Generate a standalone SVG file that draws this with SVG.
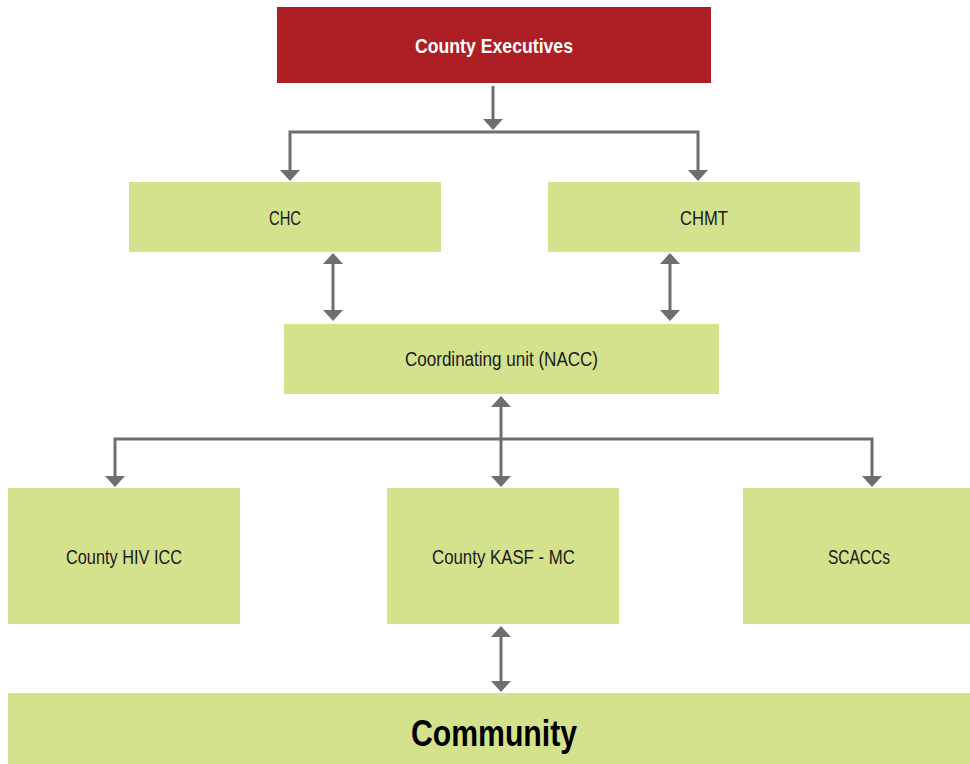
<svg xmlns="http://www.w3.org/2000/svg" width="970" height="764" viewBox="0 0 970 764">
<defs>
<style>
.box{fill:#D4E28D;}
.exec{fill:#AD1F24;}
.lbl{font-family:"Liberation Sans",Arial,sans-serif;font-size:20px;fill:#1a1a1a;text-anchor:middle;dominant-baseline:central;}
.conn{fill:none;stroke:#6D6E71;stroke-width:3;}
</style>
<marker id="ah" markerUnits="userSpaceOnUse" markerWidth="12" markerHeight="22" viewBox="0 -11 12 22" refX="0" refY="0" orient="auto-start-reverse">
<path d="M0,-10 L11,0 L0,10 Z" fill="#6D6E71"/>
</marker>
</defs>
<rect width="970" height="764" fill="#fff"/>
<g id="county-executives">
<rect class="exec" x="277" y="7" width="434" height="76"/>
<text class="lbl" x="494" y="46" textLength="158" lengthAdjust="spacingAndGlyphs" style="fill:#fff;font-weight:bold;">County Executives</text>
</g>
<g id="chc">
<rect class="box" x="129" y="182" width="312" height="70"/>
<text class="lbl" x="285" y="218" textLength="32" lengthAdjust="spacingAndGlyphs">CHC</text>
</g>
<g id="chmt">
<rect class="box" x="548" y="182" width="312" height="70"/>
<text class="lbl" x="704" y="218" textLength="48" lengthAdjust="spacingAndGlyphs">CHMT</text>
</g>
<g id="nacc">
<rect class="box" x="284" y="324" width="435" height="70"/>
<text class="lbl" x="501.5" y="359" textLength="193" lengthAdjust="spacingAndGlyphs">Coordinating unit (NACC)</text>
</g>
<g id="hiv-icc">
<rect class="box" x="8" y="488" width="232" height="136"/>
<text class="lbl" x="124" y="557" textLength="116" lengthAdjust="spacingAndGlyphs">County HIV ICC</text>
</g>
<g id="kasf">
<rect class="box" x="387" y="488" width="232" height="136"/>
<text class="lbl" x="503.5" y="557" textLength="143" lengthAdjust="spacingAndGlyphs">County KASF - MC</text>
</g>
<g id="scaccs">
<rect class="box" x="743" y="488" width="227" height="136"/>
<text class="lbl" x="859" y="557" textLength="62" lengthAdjust="spacingAndGlyphs">SCACCs</text>
</g>
<g id="community">
<rect class="box" x="8" y="693" width="962" height="71"/>
<text class="lbl" x="494" y="733" textLength="166" lengthAdjust="spacingAndGlyphs" style="font-size:36px;font-weight:bold;fill:#000;">Community</text>
</g>
<g id="connectors">
<path class="conn" d="M493,86 V119" marker-end="url(#ah)"/>
<path class="conn" d="M290,170 V132 H698 V170" marker-start="url(#ah)" marker-end="url(#ah)"/>
<path class="conn" d="M333,264 V310" marker-start="url(#ah)" marker-end="url(#ah)"/>
<path class="conn" d="M670,264 V310" marker-start="url(#ah)" marker-end="url(#ah)"/>
<path class="conn" d="M501,407 V476" marker-start="url(#ah)" marker-end="url(#ah)"/>
<path class="conn" d="M115,476 V439 H872 V476" marker-start="url(#ah)" marker-end="url(#ah)"/>
<path class="conn" d="M501,637 V681" marker-start="url(#ah)" marker-end="url(#ah)"/>
</g>
</svg>
